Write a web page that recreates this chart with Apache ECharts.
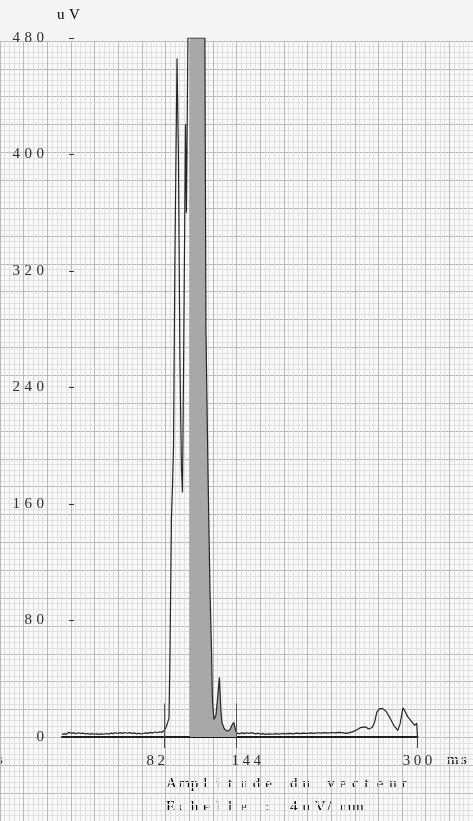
<!DOCTYPE html>
<html>
<head>
<meta charset="utf-8">
<script src="https://cdn.jsdelivr.net/npm/echarts@6/dist/echarts.min.js"></script>
<style>
  html, body { margin: 0; padding: 0; background: #f4f4f4; }
  #chart { width: 473px; height: 821px; }
</style>
</head>
<body>
<div id="chart"></div>
<script>
// Signal-averaged ECG: vector magnitude (uV) against time (ms)
const timeMs = [
  -6, -4, -2, 0, 1, 2, 4, 6, 8, 10, 12, 14, 16, 18, 20, 22, 24, 26, 28, 30,
  32, 34, 36, 38, 40, 42, 44, 46, 48, 50, 52, 54, 56, 58, 60, 62, 64, 66, 68, 70,
  72, 74, 76, 78, 80, 82, 83.5, 85, 86.1, 87, 88.2, 89.1, 90, 91.2, 93, 94.2, 95.5, 96.8, 97.7, 98.6,
  100.3, 101.1, 102.4, 104, 108, 112, 117, 117.9, 119.7, 121.4, 122.7, 123.5, 124.8, 126.5, 128.3, 129.5, 130.8, 131.7, 133.4, 136,
  138.5, 140.2, 141.9, 143.6, 144, 145, 147, 149, 151, 153, 155, 157, 159, 161, 163, 165, 167, 169, 172, 175,
  178, 181, 184, 187, 190, 193, 196, 199, 202, 205, 208, 211, 214, 217, 220, 223, 226, 229, 232, 235,
  239, 244, 248, 251, 255, 258, 261, 263, 265, 267.5, 270, 273, 276, 279.5, 283, 285, 287.5, 289, 291.5, 295,
  297.5, 299.3, 300
];
const amplitudeUv = [
  1.8, 2.2, 2.0, 3.2, 4.2, 2.6, 2.8, 2.2, 2.9, 2.4, 2.7, 2.1, 2.4, 2.0, 2.3, 1.9, 2.2, 1.8, 2.1, 1.9,
  2.4, 2.0, 2.6, 2.3, 2.9, 2.4, 3.0, 2.5, 3.1, 2.6, 3.0, 2.4, 2.8, 2.2, 2.6, 2.1, 2.4, 2.8, 2.5, 3.2,
  2.7, 3.4, 2.9, 3.6, 3.2, 4.5, 6.5, 10, 13, 60, 150, 172, 200, 330, 466, 400, 260, 185, 168, 250,
  421, 360, 480, 480, 480, 480, 480, 280, 180, 100, 60, 25, 12, 15, 30, 41, 18, 10, 6, 4,
  5, 8, 10, 4, 3.5, 2.5, 2.2, 2.8, 2.3, 2.9, 2.4, 3.0, 2.5, 2.1, 2.6, 2.0, 2.3, 1.8, 2.2, 1.9,
  2.3, 2.0, 2.4, 2.1, 2.5, 2.2, 2.6, 2.3, 2.7, 2.4, 2.8, 2.5, 2.9, 2.6, 3.0, 2.7, 3.1, 2.8, 3.2, 3.0,
  2.5, 3.5, 5, 6.5, 7, 5.5, 6.5, 10, 17, 19.5, 19.5, 17.5, 13.5, 8, 4.5, 9, 20, 18, 14, 10.5,
  8, 9.5, 0
];

// Axis ticks and labels
const yTickValues = [0, 80, 160, 240, 320, 400, 480];
const xTickValues = [82, 144, 300];          // QRS onset, QRS offset, end of record
const shadeStartMs = 104;                    // last 40 ms of the QRS
const shadeEndMs = 144;
const markerTopUv = 23;                      // height of the onset/offset markers

const ink = '#2e2e2e';
const serif = "'Liberation Serif', 'DejaVu Serif', serif";

// Typewriter-like spacing: every character sits in a fixed-width cell
function pitched(str, cell) {
  return str.split('').map(function (ch) { return '{' + cell + '|' + ch + '}'; }).join('');
}
function cell(width) {
  return { width: width, fontFamily: serif, fontSize: 15, color: ink, lineHeight: 16 };
}

const curve = timeMs.map(function (t, i) { return [t, amplitudeUv[i]]; });
const shaded = curve.filter(function (p) { return p[0] >= shadeStartMs && p[0] <= shadeEndMs; });

const chart = echarts.init(document.getElementById('chart'), null, { renderer: 'canvas' });

chart.setOption({
  animation: false,
  backgroundColor: '#f4f4f4',
  grid: [
    // signal plot
    { left: 62, right: 55.5, top: 38, bottom: 84, containLabel: false },
    // millimetre graph paper behind everything
    { left: -2.5, right: -107, top: 41, bottom: -35.5, show: true, borderWidth: 0, backgroundColor: '#f9f9f9', z: -1 }
  ],
  xAxis: [
    {
      type: 'value', gridIndex: 0, min: -6, max: 300,
      axisLine: { show: true, onZero: false, lineStyle: { color: '#1e1e1e', width: 2 } },
      axisTick: { show: true, customValues: xTickValues, length: 11, lineStyle: { color: '#444', width: 1 } },
      axisLabel: {
        show: true, customValues: xTickValues, margin: 16,
        formatter: function (v) {
          if (v === 82) return pitched('82', 'x') + '{g82| }';
          if (v === 144) return '{g144| }' + pitched('144', 'x');
          return pitched(String(v), 'x');
        },
        rich: { x: cell(11), g82: cell(17), g144: cell(20) }
      },
      splitLine: { show: false }
    },
    {
      type: 'value', gridIndex: 1, min: 0, max: 100, interval: 5,
      axisLine: { show: false }, axisTick: { show: false }, axisLabel: { show: false },
      splitLine: { show: true, lineStyle: { color: '#b8b8b8', width: 1 } },
      minorTick: { show: false, splitNumber: 5 },
      minorSplitLine: { show: true, lineStyle: { color: '#e0e0e0', width: 1 } }
    }
  ],
  yAxis: [
    {
      type: 'value', gridIndex: 0, min: 0, max: 480, interval: 80,
      axisLine: { show: false },
      axisTick: { show: true, inside: true, length: 5, lineStyle: { color: '#333', width: 1 } },
      axisLabel: {
        margin: 18,
        customValues: yTickValues,
        formatter: function (v) { return pitched(String(v), 'y'); },
        rich: { y: cell(12) }
      },
      splitLine: { show: false }
    },
    {
      type: 'value', gridIndex: 1, min: 0, max: 140, interval: 5, inverse: true,
      axisLine: { show: false }, axisTick: { show: false }, axisLabel: { show: false },
      splitLine: { show: true, lineStyle: { color: '#b8b8b8', width: 1 } },
      minorTick: { show: false, splitNumber: 5 },
      minorSplitLine: { show: true, lineStyle: { color: '#e0e0e0', width: 1 } }
    }
  ],
  series: [
    {
      // keeps the graph-paper axes alive
      type: 'line', xAxisIndex: 1, yAxisIndex: 1, data: [], silent: true
    },
    {
      name: 'terminal 40 ms',
      type: 'line', xAxisIndex: 0, yAxisIndex: 0,
      data: shaded, showSymbol: false, silent: true,
      lineStyle: { width: 0 },
      areaStyle: { color: '#a8a8a8', opacity: 1 },
      z: 2
    },
    {
      name: 'vector magnitude',
      type: 'line', xAxisIndex: 0, yAxisIndex: 0,
      data: curve, showSymbol: false, silent: true,
      lineStyle: { color: '#262626', width: 1.2 },
      z: 3,
      markLine: {
        silent: true, symbol: ['none', 'none'], label: { show: false },
        lineStyle: { color: '#555', width: 1, type: 'solid' },
        data: [xTickValues[0], xTickValues[1]].map(function (t) {
          return [{ coord: [t, 0] }, { coord: [t, markerTopUv] }];
        })
      }
    }
  ],
  graphic: [
    { type: 'text', left: 57, top: 8, style: { text: pitched('uV', 'u'), rich: { u: cell(12) } } },
    { type: 'text', left: 447, top: 753, style: { text: pitched('ms', 'u'), rich: { u: cell(14) } } },
    { type: 'text', left: -3, top: 753, style: { text: 's', font: "15px 'Liberation Serif'", fill: ink } },
    { type: 'text', left: 166, top: 777, style: { text: pitched('Amplitude du vecteur', 'b'), rich: { b: cell(12.4) } } },
    { type: 'text', left: 166, top: 800, style: { text: pitched('Echelle : 4uV/mm', 'b'), rich: { b: cell(12.4) } } }
  ]
});
</script>
</body>
</html>
